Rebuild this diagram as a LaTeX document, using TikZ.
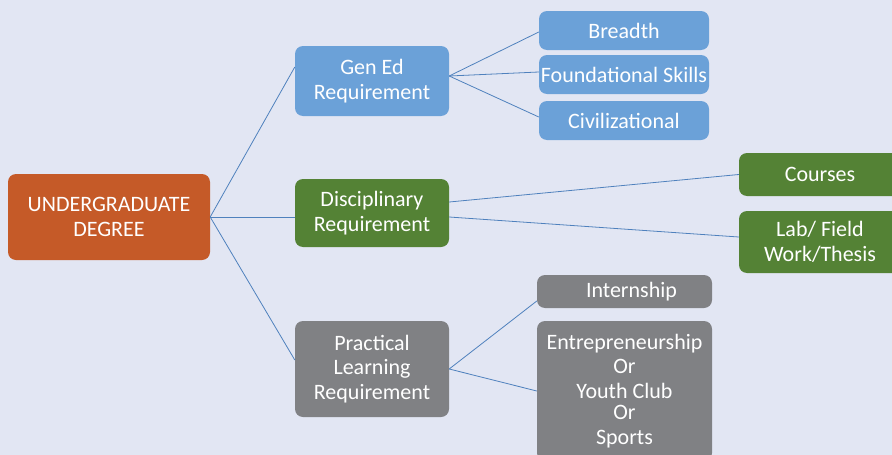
\documentclass[tikz,border=0pt]{standalone}
\usepackage{fontspec}
\setmainfont{Carlito}
\definecolor{bgc}{HTML}{E2E6F3}
\definecolor{orng}{HTML}{C55A28}
\definecolor{blu}{HTML}{6BA1D8}
\definecolor{grn}{HTML}{548235}
\definecolor{gry}{HTML}{808184}
\definecolor{lnc}{HTML}{4F81BD}
\tikzset{
  box/.style={rounded corners=8pt, inner sep=0pt, align=center, text=white,
    font=\fontsize{22}{24.5}\selectfont},
  conn/.style={draw=lnc, line width=0.8pt}
}
\begin{document}
\begin{tikzpicture}[x=1pt,y=-1pt]
\useasboundingbox (0,0) rectangle (892,455);
\fill[bgc] (0,0) rectangle (892,455);
\clip (0,0) rectangle (892,455);
\node[box, fill=orng, minimum width=202pt, minimum height=86pt] (root) at (109,217) {UNDERGRADUATE\\DEGREE};
\node[box, fill=blu, minimum width=154pt, minimum height=70pt] (gen) at (372,81) {Gen Ed\\Requirement};
\node[box, fill=grn, minimum width=154pt, minimum height=68pt] (dis) at (372,213) {Disciplinary\\Requirement};
\node[box, fill=gry, minimum width=154pt, minimum height=96pt] (pra) at (372,369) {Practical\\Learning\\Requirement};
\node[box, fill=blu, minimum width=170pt, minimum height=39pt] (bre) at (624,30.5) {Breadth};
\node[box, fill=blu, minimum width=170pt, minimum height=39pt] (fou) at (624,74.5) {Foundational Skills};
\node[box, fill=blu, minimum width=170pt, minimum height=39pt] (civ) at (624,120.5) {Civilizational};
\node[box, fill=grn, minimum width=162pt, minimum height=43pt] (cou) at (820,174.5) {Courses};
\node[box, fill=grn, minimum width=162pt, minimum height=62pt] (lab) at (820,242) {Lab/ Field\\Work/Thesis};
\node[box, fill=gry, minimum width=175pt, minimum height=33pt] (int) at (624.5,291.5) {\hspace*{14pt}Internship};
\node[box, fill=gry, minimum width=175pt, minimum height=140pt] (ent) at (624.5,391) {Entrepreneurship\\Or\\Youth Club\\[-3pt]Or\\Sports};
\draw[conn] (root.east) -- ([yshift=14pt]gen.west);
\draw[conn] (root.east) -- ([yshift=-4pt]dis.west);
\draw[conn] (root.east) -- ([yshift=9pt]pra.west);
\draw[conn] ([yshift=5pt]gen.east) -- ([yshift=-1.5pt]bre.west);
\draw[conn] ([yshift=5pt]gen.east) -- ([yshift=2.5pt]fou.west);
\draw[conn] ([yshift=5pt]gen.east) -- ([yshift=3.5pt]civ.west);
\draw[conn] ([yshift=11pt]dis.east) -- (cou.west);
\draw[conn] ([yshift=-4pt]dis.east) -- ([yshift=5pt]lab.west);
\draw[conn] (pra.east) -- ([yshift=-9.5pt]int.west);
\draw[conn] (pra.east) -- (ent.west);
\end{tikzpicture}
\end{document}
